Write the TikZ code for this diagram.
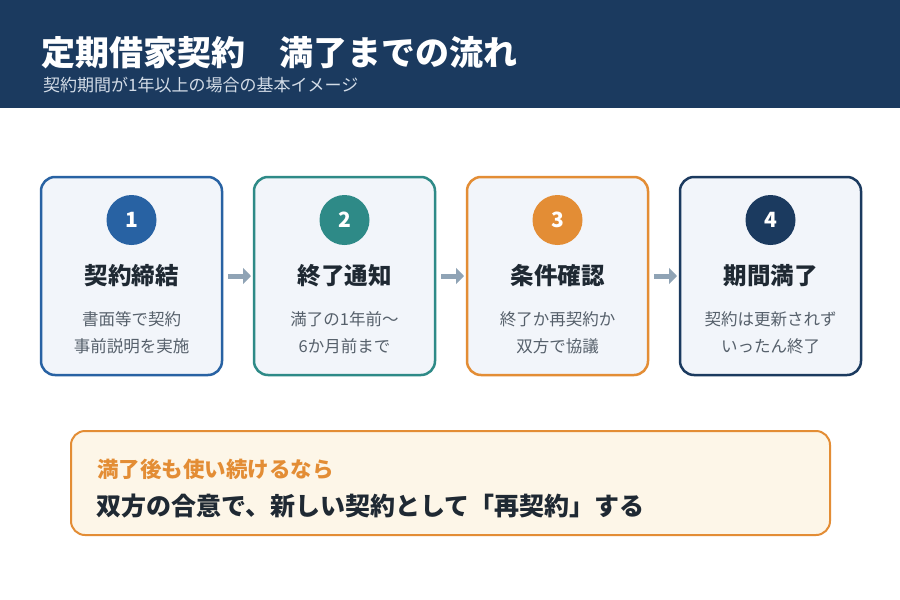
\documentclass[tikz,border=0pt]{standalone}
\usepackage{fontspec}
\setmainfont{Noto Sans CJK JP}
\usetikzlibrary{positioning,arrows.meta,calc}
\definecolor{navy}{HTML}{1B3A5F}
\definecolor{stepblue}{HTML}{2862A3}
\definecolor{stepteal}{HTML}{2E8A87}
\definecolor{steporange}{HTML}{E38D35}
\definecolor{cardfill}{HTML}{F2F5FA}
\definecolor{arrowgray}{HTML}{8FA3B5}
\definecolor{notefill}{HTML}{FDF6E8}
\definecolor{inkdark}{HTML}{1F2933}
\definecolor{inkgray}{HTML}{56606B}
\definecolor{subink}{HTML}{D3DCE7}

\tikzset{
  card/.style={rectangle,rounded corners=14pt,line width=2.5pt,draw=#1,fill=cardfill,
    minimum width=181pt,minimum height=198pt,inner sep=0pt,outer sep=0pt},
  badge/.style={circle,fill=#1,minimum size=50pt,inner sep=0pt,text=white,
    font=\fontsize{21}{21}\selectfont\bfseries},
  heading/.style={text=inkdark,font=\fontsize{23.5}{23.5}\selectfont\bfseries},
  body/.style={text=inkgray,align=center,font=\fontsize{16.5}{27}\selectfont},
  flow/.style={-{Triangle[length=8pt,width=16pt]},line width=5pt,draw=arrowgray,
    shorten <=6pt,shorten >=3pt},
  note/.style={rectangle,rounded corners=14pt,line width=2pt,draw=steporange,fill=notefill,
    minimum width=759pt,minimum height=104pt,inner sep=0pt},
}

\begin{document}
\begin{tikzpicture}[x=1pt,y=-1pt]

  \fill[white] (0,0) rectangle (900,600);
  \path[use as bounding box] (0,0) rectangle (900,600);

  % header
  \fill[navy] (0,0) rectangle (900,108);
  \node[anchor=west,text=white,font=\fontsize{34}{34}\selectfont\bfseries,inner sep=0pt] (title) at (41,53) {定期借家契約　満了までの流れ};
  \node[anchor=west,text=subink,font=\fontsize{17}{17}\selectfont,inner sep=0pt] (subtitle) at (43,85) {契約期間が1年以上の場合の基本イメージ};

  % steps
  \node[card=stepblue] (c1) at (131.5,276) {};
  \node[card=stepteal,right=32pt of c1] (c2) {};
  \node[card=steporange,right=32pt of c2] (c3) {};
  \node[card=navy,right=32pt of c3] (c4) {};

  \node[badge=stepblue] (b1) at ($(c1.north)+(0,43)$) {1};
  \node[badge=stepteal] (b2) at ($(c2.north)+(0,43)$) {2};
  \node[badge=steporange] (b3) at ($(c3.north)+(0,43)$) {3};
  \node[badge=navy] (b4) at ($(c4.north)+(0,43)$) {4};

  \node[heading] (h1) at ($(c1.north)+(0,99)$) {契約締結};
  \node[heading] (h2) at ($(c2.north)+(0,99)$) {終了通知};
  \node[heading] (h3) at ($(c3.north)+(0,99)$) {条件確認};
  \node[heading] (h4) at ($(c4.north)+(0,99)$) {期間満了};

  \node[body] (t1) at ($(c1.north)+(0,156)$) {書面等で契約\\事前説明を実施};
  \node[body] (t2) at ($(c2.north)+(0,156)$) {満了の1年前〜\\6か月前まで};
  \node[body] (t3) at ($(c3.north)+(0,156)$) {終了か再契約か\\双方で協議};
  \node[body] (t4) at ($(c4.north)+(0,156)$) {契約は更新されず\\いったん終了};

  \draw[flow] (c1) -- (c2);
  \draw[flow] (c2) -- (c3);
  \draw[flow] (c3) -- (c4);

  % after expiry
  \node[note] (n) at (450.5,483) {};
  \node[anchor=west,inner sep=0pt,text=steporange,font=\fontsize{21.5}{21.5}\selectfont\bfseries] (n1) at (97,469) {満了後も使い続けるなら};
  \node[anchor=west,inner sep=0pt,text=inkdark,font=\fontsize{25}{25}\selectfont\bfseries] (n2) at (96,506) {双方の合意で、新しい契約として「再契約」する};

\end{tikzpicture}
\end{document}
